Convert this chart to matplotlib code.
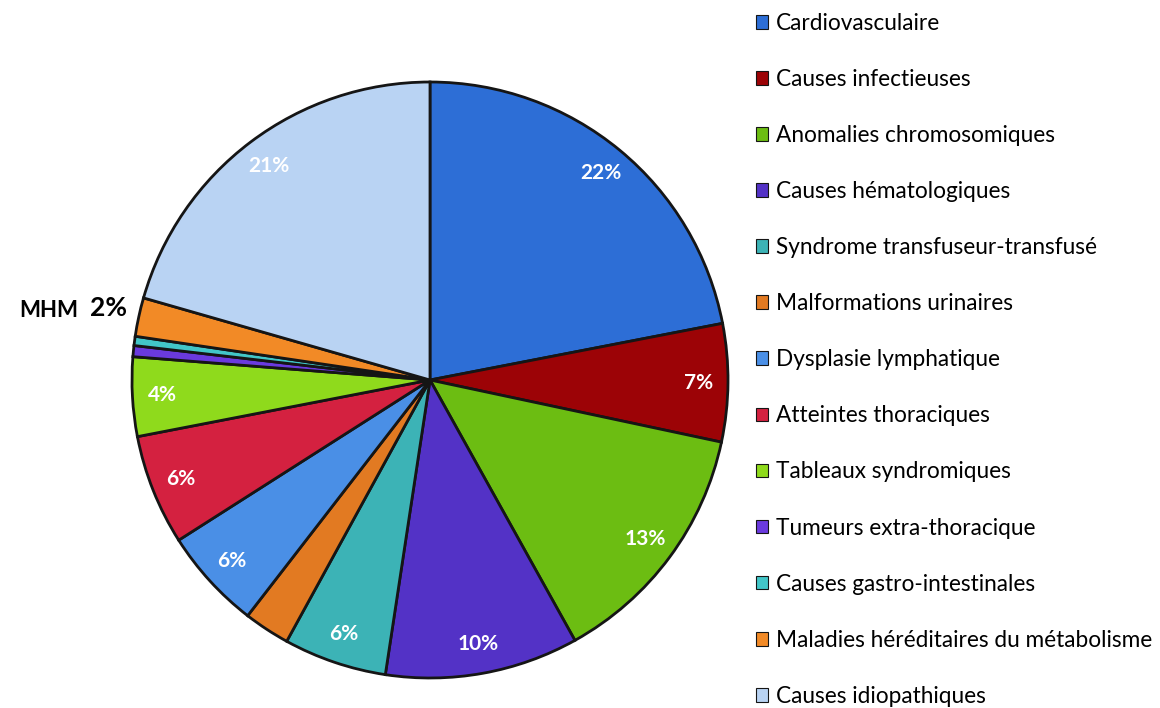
import numpy as np
import matplotlib.pyplot as plt

plt.rcParams['font.family'] = ['Lato', 'DejaVu Sans']

categories = ['Cardiovasculaire', 'Causes infectieuses', 'Anomalies chromosomiques',
              'Causes hématologiques', 'Syndrome transfuseur-transfusé',
              'Malformations urinaires', 'Dysplasie lymphatique', 'Atteintes thoraciques',
              'Tableaux syndromiques', 'Tumeurs extra-thoracique',
              'Causes gastro-intestinales', 'Maladies héréditaires du métabolisme',
              'Causes idiopathiques']
values = [22.0, 6.4, 13.6, 10.5, 5.6, 2.5, 5.5, 6.0, 4.3, 0.6, 0.5, 2.1, 20.6]
pct_labels = ['22%', '7%', '13%', '10%', '6%', '', '6%', '6%', '4%', '', '', '', '21%']
colors = ['#2d6ed6', '#9c0306', '#6cbd12', '#5332c6', '#3cb3b6', '#e27a22',
          '#4a8fe6', '#d42140', '#8fda1c', '#6a3ade', '#42c6c8', '#f28a26', '#b9d3f3']

fig = plt.figure(figsize=(11.6, 7.08), dpi=100)
ax = fig.add_axes([132 / 1160, 30 / 708, 596 / 1160, 596 / 708])

wedges, _ = ax.pie(values, colors=colors, startangle=90, counterclock=False,
                   radius=1.0, wedgeprops=dict(edgecolor='#151515', linewidth=2.0))

total = sum(values)
start = 90.0
for w, v, lab in zip(wedges, values, pct_labels):
    mid = np.deg2rad(start - v / total * 360 / 2)
    start -= v / total * 360
    if lab:
        ax.text(0.9 * np.cos(mid), 0.9 * np.sin(mid), lab, ha='center', va='center',
                color='white', fontsize=15, fontweight='bold')

# outside label for the MHM slice
th = np.deg2rad((wedges[11].theta1 + wedges[11].theta2) / 2)
x, y = 1.03 * np.cos(th), 1.03 * np.sin(th)
ax.text(x - 0.01, y + 0.025, '2%', ha='right', va='center', fontsize=19, fontweight='bold')
ax.text(x - 0.175, y + 0.015, 'MHM', ha='right', va='center', fontsize=16, fontweight='bold')

ax.set_xlim(-1, 1)
ax.set_ylim(-1, 1)
ax.set_aspect('equal')
ax.axis('off')

leg = fig.legend(wedges, categories, loc='upper left', bbox_to_anchor=(750 / 1160, 0.99),
                 frameon=False, fontsize=16.3, handlelength=0.55, handleheight=0.55,
                 handletextpad=0.35, labelspacing=1.55, borderaxespad=0.0, borderpad=0.25)
for h in leg.legend_handles:
    h.set_edgecolor('#151515')
    h.set_linewidth(0.8)

fig.savefig('out.png', dpi=100)
